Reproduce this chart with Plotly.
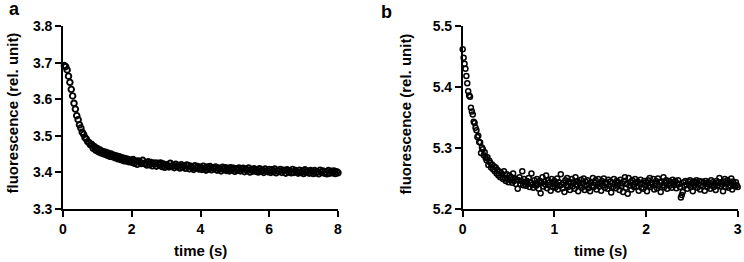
import plotly.graph_objects as go

# ---------------- data ----------------
# panel a: fluorescence trace, sampled every 0.04 s from 0.04 s to 8.00 s
step_a = 0.04
fluor_a = [
    3.692, 3.689, 3.680, 3.663, 3.646, 3.627, 3.609, 3.589, 3.573, 3.555,
    3.544, 3.530, 3.521, 3.510, 3.504, 3.495, 3.491, 3.484, 3.481, 3.475,
    3.476, 3.466, 3.470, 3.460, 3.465, 3.456, 3.461, 3.453, 3.457, 3.450,
    3.455, 3.447, 3.452, 3.444, 3.450, 3.443, 3.447, 3.440, 3.445, 3.437,
    3.443, 3.435, 3.440, 3.432, 3.438, 3.431, 3.436, 3.429, 3.434, 3.428,
    3.435, 3.425, 3.431, 3.422, 3.431, 3.428, 3.424, 3.433, 3.424, 3.426,
    3.420, 3.429, 3.421, 3.427, 3.418, 3.424, 3.426, 3.417, 3.425, 3.420,
    3.426, 3.416, 3.423, 3.414, 3.421, 3.419, 3.415, 3.425, 3.416, 3.419,
    3.413, 3.422, 3.416, 3.419, 3.412, 3.421, 3.414, 3.418, 3.411, 3.420,
    3.419, 3.410, 3.417, 3.413, 3.408, 3.418, 3.412, 3.416, 3.409, 3.414,
    3.408, 3.417, 3.411, 3.406, 3.415, 3.410, 3.416, 3.407, 3.413, 3.410,
    3.415, 3.406, 3.412, 3.409, 3.404, 3.414, 3.408, 3.413, 3.405, 3.411,
    3.404, 3.413, 3.407, 3.411, 3.403, 3.410, 3.406, 3.412, 3.404, 3.409,
    3.411, 3.402, 3.409, 3.405, 3.412, 3.401, 3.408, 3.404, 3.410, 3.403,
    3.407, 3.401, 3.410, 3.403, 3.406, 3.400, 3.409, 3.404, 3.402, 3.408,
    3.400, 3.407, 3.402, 3.409, 3.399, 3.405, 3.403, 3.408, 3.400, 3.406,
    3.405, 3.398, 3.407, 3.401, 3.404, 3.399, 3.408, 3.400, 3.405, 3.402,
    3.398, 3.406, 3.400, 3.404, 3.397, 3.407, 3.401, 3.403, 3.398, 3.405,
    3.403, 3.397, 3.405, 3.399, 3.402, 3.396, 3.406, 3.400, 3.404, 3.398,
    3.401, 3.396, 3.405, 3.398, 3.403, 3.399, 3.404, 3.397, 3.402, 3.399,
]
time_a = [round(step_a * (i + 1), 2) for i in range(len(fluor_a))]

# panel b: fluorescence trace, sampled every 0.01 s from 0.00 s to 3.00 s
step_b = 0.01
fluor_b = [
    5.462, 5.448, 5.438, 5.430, 5.418, 5.406, 5.393, 5.386, 5.384, 5.366,
    5.360, 5.355, 5.343, 5.341, 5.333, 5.329, 5.318, 5.320, 5.310, 5.309,
    5.292, 5.301, 5.298, 5.288, 5.293, 5.284, 5.280, 5.285, 5.272, 5.279,
    5.276, 5.268, 5.273, 5.265, 5.270, 5.262, 5.268, 5.258, 5.264, 5.255,
    5.261, 5.252, 5.259, 5.256, 5.249, 5.262, 5.251, 5.246, 5.257, 5.250,
    5.244, 5.255, 5.248, 5.252, 5.243, 5.258, 5.246, 5.250, 5.241, 5.248,
    5.233, 5.247, 5.252, 5.241, 5.246, 5.262, 5.239, 5.249, 5.244, 5.238,
    5.246, 5.241, 5.251, 5.236, 5.244, 5.258, 5.240, 5.235, 5.247, 5.242,
    5.238, 5.249, 5.241, 5.233, 5.246, 5.226, 5.243, 5.252, 5.237, 5.245,
    5.240, 5.255, 5.234, 5.247, 5.239, 5.244, 5.230, 5.249, 5.236, 5.242,
    5.246, 5.235, 5.241, 5.250, 5.232, 5.244, 5.238, 5.257, 5.240, 5.234,
    5.243, 5.228, 5.247, 5.239, 5.251, 5.236, 5.245, 5.231, 5.242, 5.249,
    5.237, 5.244, 5.233, 5.252, 5.240, 5.246, 5.229, 5.243, 5.238, 5.248,
    5.235, 5.242, 5.250, 5.231, 5.245, 5.239, 5.247, 5.234, 5.241, 5.229,
    5.244, 5.238, 5.251, 5.236, 5.243, 5.247, 5.232, 5.240, 5.249, 5.237,
    5.242, 5.230, 5.246, 5.239, 5.250, 5.235, 5.244, 5.241, 5.233, 5.248,
    5.238, 5.245, 5.227, 5.243, 5.236, 5.249, 5.240, 5.234, 5.246, 5.239,
    5.244, 5.231, 5.248, 5.237, 5.242, 5.228, 5.246, 5.252, 5.235, 5.241,
    5.225, 5.251, 5.238, 5.244, 5.232, 5.247, 5.240, 5.236, 5.249, 5.243,
    5.237, 5.245, 5.230, 5.242, 5.248, 5.235, 5.241, 5.233, 5.246, 5.239,
    5.244, 5.229, 5.247, 5.238, 5.251, 5.236, 5.243, 5.240, 5.249, 5.232,
    5.241, 5.246, 5.234, 5.250, 5.238, 5.244, 5.228, 5.245, 5.239, 5.252,
    5.236, 5.243, 5.247, 5.233, 5.240, 5.246, 5.238, 5.242, 5.235, 5.248,
    5.244, 5.239, 5.246, 5.234, 5.242, 5.247, 5.241, 5.236, 5.219, 5.223,
    5.228, 5.244, 5.238, 5.246, 5.240, 5.233, 5.245, 5.239, 5.247, 5.236,
    5.242, 5.229, 5.245, 5.238, 5.243, 5.247, 5.235, 5.241, 5.246, 5.232,
    5.239, 5.245, 5.237, 5.243, 5.230, 5.246, 5.241, 5.236, 5.244, 5.240,
    5.233, 5.247, 5.239, 5.244, 5.236, 5.242, 5.231, 5.246, 5.238, 5.243,
    5.251, 5.237, 5.244, 5.240, 5.229, 5.245, 5.249, 5.236, 5.242, 5.247,
    5.235, 5.243, 5.238, 5.250, 5.232, 5.245, 5.240, 5.237, 5.244, 5.239,
    5.236,
]
time_b = [round(step_b * i, 2) for i in range(len(fluor_b))]

ticks_a_x = [0, 2, 4, 6, 8]
ticks_a_y = [3.3, 3.4, 3.5, 3.6, 3.7, 3.8]
ticks_b_x = [0, 1, 2, 3]
ticks_b_y = [5.2, 5.3, 5.4, 5.5]

# ---------------- figure ----------------
W, H = 744, 262
FONT = "Liberation Sans, Arial, sans-serif"

marker_a = dict(symbol="circle-open", size=5.6, color="black",
                line=dict(width=1.9, color="black"))
marker_b = dict(symbol="circle-open", size=5.0, color="black",
                line=dict(width=1.5, color="black"))

fig = go.Figure()
fig.add_trace(go.Scatter(x=time_a, y=fluor_a, mode="markers", marker=marker_a,
                         xaxis="x", yaxis="y", cliponaxis=False, showlegend=False))
fig.add_trace(go.Scatter(x=time_b, y=fluor_b, mode="markers", marker=marker_b,
                         xaxis="x2", yaxis="y2", cliponaxis=False, showlegend=False))

def px_x(p):
    return p / W

def px_y(p):
    return 1 - p / H

axis_common = dict(
    showgrid=False, zeroline=False, showline=True, linecolor="black",
    linewidth=1.6, ticks="outside", ticklen=6, tickwidth=1.6, tickcolor="black",
    automargin=False,
    tickfont=dict(family=FONT, size=14, color="black", weight="bold"),
)

y_dom = [px_y(209), px_y(26)]
fig.update_layout(
    width=W, height=H, autosize=False,
    margin=dict(l=0, r=0, t=0, b=0, pad=0),
    paper_bgcolor="white", plot_bgcolor="white",
    font=dict(family=FONT, color="black"),
    xaxis=dict(domain=[px_x(63), px_x(338)], range=[0, 8], tickvals=ticks_a_x,
               anchor="y", **axis_common),
    yaxis=dict(domain=y_dom, range=[3.3, 3.8], tickvals=ticks_a_y,
               tickformat=".1f", anchor="x", **axis_common),
    xaxis2=dict(domain=[px_x(462.7), px_x(737.7)], range=[0, 3], tickvals=ticks_b_x,
                anchor="y2", **axis_common),
    yaxis2=dict(domain=y_dom, range=[5.2, 5.5], tickvals=ticks_b_y,
                tickformat=".1f", anchor="x2", **axis_common),
)

title_font = dict(family=FONT, size=15, color="black")
annotations = [
    dict(text="<b>a</b>", x=px_x(7), y=px_y(9), xanchor="left", yanchor="middle",
         font=dict(family=FONT, size=18, color="black")),
    dict(text="<b>b</b>", x=px_x(379), y=px_y(12), xanchor="left", yanchor="middle",
         font=dict(family=FONT, size=18, color="black")),
    dict(text="<b>time (s)</b>", x=px_x(200.5), y=px_y(250), xanchor="center",
         yanchor="middle", font=title_font),
    dict(text="<b>time (s)</b>", x=px_x(600.2), y=px_y(250), xanchor="center",
         yanchor="middle", font=title_font),
    dict(text="<b>fluorescence (rel. unit)</b>", x=px_x(12), y=px_y(113.5), textangle=-90,
         xanchor="center", yanchor="middle", font=title_font),
    dict(text="<b>fluorescence (rel. unit)</b>", x=px_x(405), y=px_y(113.5), textangle=-90,
         xanchor="center", yanchor="middle", font=title_font),
]
for a in annotations:
    a.update(xref="paper", yref="paper", showarrow=False)
fig.update_layout(annotations=annotations)

fig.write_html(
    "out.html",
    config={"displayModeBar": False},
    post_script="document.body.style.margin='0';document.body.style.overflow='hidden';",
)
